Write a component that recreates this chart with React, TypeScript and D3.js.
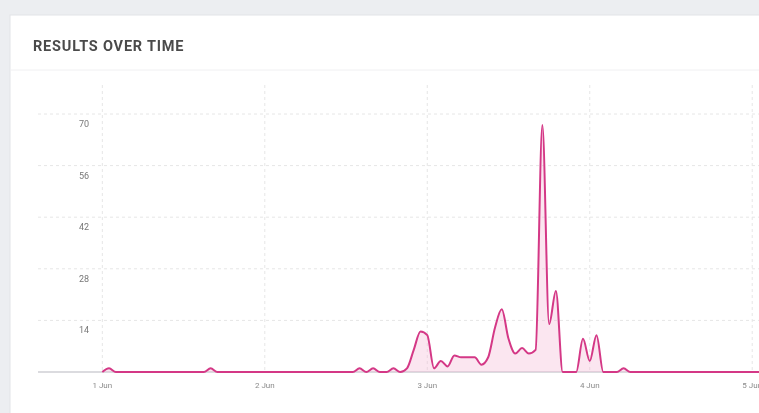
import React from "react";
import * as d3 from "d3";

// hourly result counts, starting 1 Jun 00:00
const START = new Date(2023, 5, 1, 0, 0);
const counts = [
  0, 1, 0, 0, 0, 0, 0, 0, 0, 0, 0, 0, 0, 0, 0, 0, 1, 0, 0, 0, 0, 0, 0, 0,
  0, 0, 0, 0, 0, 0, 0, 0, 0, 0, 0, 0, 0, 0, 1, 0, 1, 0, 0, 1, 0, 1, 6, 11,
  10, 1, 3, 1.5, 4.5, 4, 4, 4, 2, 4, 12, 17, 9, 5, 6.5, 5, 6, 67, 13, 22, 0, 0,
  0, 9, 3, 10, 0, 0, 0, 1, 0, 0, 0, 0, 0, 0, 0, 0, 0, 0, 0, 0, 0, 0, 0, 0,
  0, 0, 0, 0,
];
const yTicks = [14, 28, 42, 56, 70];
const dayTicks = [
  new Date(2023, 5, 1),
  new Date(2023, 5, 2),
  new Date(2023, 5, 3),
  new Date(2023, 5, 4),
  new Date(2023, 5, 5),
];
const TITLE = "RESULTS OVER TIME";

const W = 759;
const H = 413;
const LINE = "#d43886";

export default function App() {
  const series = counts.map((v, i) => ({
    t: new Date(START.getTime() + i * 3600 * 1000),
    v,
  }));

  const x = d3
    .scaleTime()
    .domain([new Date(2023, 4, 31, 14, 30), new Date(2023, 5, 5, 1, 0)])
    .range([38, 759]);
  const y = d3.scaleLinear().domain([0, 70]).range([372, 114]);

  const line = d3
    .line<{ t: Date; v: number }>()
    .x((d) => x(d.t))
    .y((d) => y(d.v))
    .curve(d3.curveMonotoneX);
  const area = d3
    .area<{ t: Date; v: number }>()
    .x((d) => x(d.t))
    .y0(y(0))
    .y1((d) => y(d.v))
    .curve(d3.curveMonotoneX);

  const fmt = d3.timeFormat("%-d %b");

  return (
    <div style={{ position: "fixed", left: 0, top: 0, width: W, height: H, overflow: "hidden" }}>
      <svg width={W} height={H} style={{ display: "block", fontFamily: "Roboto, sans-serif" }}>
        <rect x={0} y={0} width={W} height={H} fill="#eceef1" />
        <rect x={10} y={15} width={W} height={H} fill="#ffffff" stroke="#e2e4e8" />
        <text x={33} y={51} fontSize={14.5} fontWeight={700} fill="#4a4a4a" letterSpacing={0.8}>
          {TITLE}
        </text>
        <line x1={10} x2={W} y1={70} y2={70} stroke="#f0f0f2" />

        {/* grid */}
        {yTicks.map((t) => (
          <line
            key={"gy" + t}
            x1={38}
            x2={W}
            y1={y(t)}
            y2={y(t)}
            stroke="#e6e6e6"
            strokeDasharray="3,3"
          />
        ))}
        {dayTicks.map((d, i) => (
          <line
            key={"gx" + i}
            x1={x(d)}
            x2={x(d)}
            y1={85}
            y2={372}
            stroke="#e6e6e6"
            strokeDasharray="3,3"
          />
        ))}

        {yTicks.map((t) => (
          <text
            key={"ly" + t}
            x={89}
            y={y(t) + 13}
            fontSize={9}
            fill="#777777"
            textAnchor="end"
          >
            {t}
          </text>
        ))}

        <line x1={38} x2={W} y1={y(0)} y2={y(0)} stroke="#cfcfd4" strokeWidth={1.5} />

        <path d={area(series) ?? ""} fill="#f4b6d4" fillOpacity={0.35} />
        <path
          d={line(series) ?? ""}
          fill="none"
          stroke={LINE}
          strokeWidth={2}
          strokeLinejoin="round"
        />

        {dayTicks.map((d, i) => (
          <text
            key={"lx" + i}
            x={x(d)}
            y={388}
            fontSize={8}
            fill="#8a8a8a"
            textAnchor="middle"
          >
            {fmt(d)}
          </text>
        ))}
      </svg>
    </div>
  );
}
